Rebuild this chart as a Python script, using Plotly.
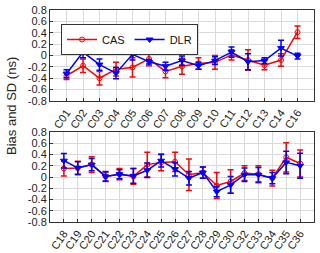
import plotly.graph_objects as go

cats_top = ["C01","C02","C03","C04","C05","C06","C07","C08","C09","C10","C11","C12","C13","C14","C16"]
cas_top = [-0.36,-0.18,-0.40,-0.24,-0.21,-0.06,-0.28,-0.19,-0.14,-0.12,0.01,-0.08,-0.17,-0.08,0.41]
cas_top_sd = [0.06,0.12,0.12,0.12,0.17,0.12,0.11,0.14,0.10,0.12,0.09,0.18,0.08,0.11,0.11]
dlr_top = [-0.32,0.06,-0.16,-0.31,0.02,-0.11,-0.19,-0.09,-0.18,-0.09,0.06,-0.11,-0.09,0.13,-0.01]
dlr_top_sd = [0.07,0.10,0.10,0.10,0.10,0.04,0.07,0.08,0.06,0.07,0.09,0.14,0.05,0.14,0.05]

cats_bot = ["C18","C19","C20","C21","C22","C23","C24","C25","C26","C27","C28","C29","C30","C32","C33","C34","C35","C36"]
cas_bot = [0.15,0.16,0.22,0.01,0.05,0.01,0.22,0.26,0.27,0.04,0.08,-0.15,-0.08,0.07,0.05,-0.02,0.35,0.24]
cas_bot_sd = [0.13,0.12,0.14,0.09,0.10,0.14,0.22,0.15,0.17,0.28,0.10,0.23,0.21,0.13,0.15,0.14,0.26,0.24]
dlr_bot = [0.29,0.16,0.22,0.01,0.05,0.02,0.12,0.29,0.14,-0.02,0.08,-0.26,-0.14,0.04,0.04,-0.02,0.26,0.20]
dlr_bot_sd = [0.13,0.11,0.11,0.08,0.08,0.13,0.13,0.11,0.12,0.12,0.10,0.09,0.15,0.12,0.13,0.10,0.20,0.22]

yticks = [-0.8,-0.6,-0.4,-0.2,0,0.2,0.4,0.6,0.8]
yticktext = ["-0.8","-0.6","-0.4","-0.2","0","0.2","0.4","0.6","0.8"]

RED = "#ff0000"
BLUE = "#0000ff"

fig = go.Figure()

def add(cats, vals, sd, color, symbol, size, name, xa, ya, show):
    fig.add_trace(go.Scatter(
        x=cats, y=vals, name=name, mode="lines+markers",
        line=dict(color=color, width=1.5),
        marker=dict(color=color, symbol=symbol, size=size, line=dict(color=color, width=1)),
        error_y=dict(type="data", array=sd, visible=True, color=color, thickness=1.5, width=3),
        xaxis=xa, yaxis=ya, showlegend=show))

add(cats_top, cas_top, cas_top_sd, RED, "circle-open", 5, "CAS", "x", "y", True)
add(cats_top, dlr_top, dlr_top_sd, BLUE, "triangle-down", 6, "DLR", "x", "y", True)
add(cats_bot, cas_bot, cas_bot_sd, RED, "circle-open", 5, "CAS", "x2", "y2", False)
add(cats_bot, dlr_bot, dlr_bot_sd, BLUE, "triangle-down", 6, "DLR", "x2", "y2", False)

axfont = dict(family="Liberation Sans, Arial", size=11, color="#222222")
common_x = dict(showgrid=True, gridcolor="#dadada", gridwidth=1, showline=True, linecolor="#333333",
                linewidth=1, mirror=True, ticks="inside", ticklen=3, tickcolor="#333333",
                tickangle=-55, tickfont=axfont, zeroline=False, automargin=False)
common_y = dict(range=[-0.8,0.8], tickvals=yticks, ticktext=yticktext, showgrid=True,
                gridcolor="#dadada", gridwidth=1, showline=True, linecolor="#333333", linewidth=1,
                mirror=True, ticks="inside", ticklen=3, tickcolor="#333333", tickfont=axfont,
                zeroline=False, automargin=False)

fig.update_layout(
    width=320, height=253,
    margin=dict(l=0, r=0, t=0, b=0, autoexpand=False),
    paper_bgcolor="white", plot_bgcolor="white",
    font=dict(family="Liberation Sans, Arial", size=11, color="#222222"),
    xaxis=dict(common_x, domain=[50/320, 314/320], range=[-1, 15], anchor="y"),
    yaxis=dict(common_y, domain=[152/253, 243/253], anchor="x"),
    xaxis2=dict(common_x, domain=[50/320, 314/320], range=[-1, 18], anchor="y2"),
    yaxis2=dict(common_y, domain=[31/253, 121/253], anchor="x2"),
    legend=dict(orientation="h", x=61/320, y=(253-24)/253, xanchor="left", yanchor="top",
                bgcolor="white", bordercolor="#333333", borderwidth=1,
                font=dict(family="Liberation Sans, Arial", size=11, color="#111111"),
                itemwidth=30, tracegroupgap=0),
    annotations=[dict(text="Bias and SD (ns)", x=11/320, y=(253-106)/253, xref="paper", yref="paper",
                      textangle=-90, showarrow=False, xanchor="center", yanchor="middle",
                      font=dict(family="Liberation Sans, Arial", size=13, color="#222222"))],
)

fig.write_html("out.html", config={"displayModeBar": False},
               post_script="document.body.style.margin='0px';document.body.style.overflow='hidden';")
